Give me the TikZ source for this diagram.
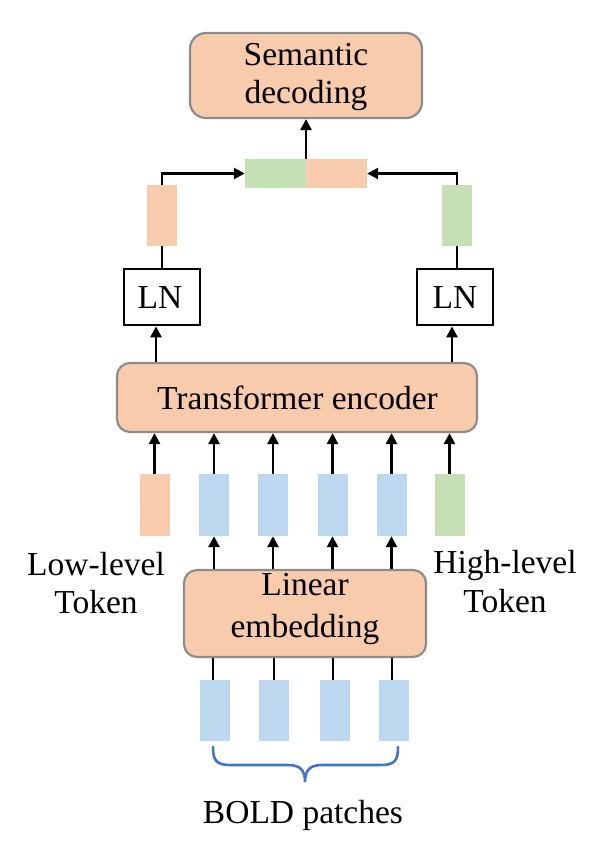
\documentclass[tikz,border=0pt]{standalone}
\usepackage{fontspec}
\setmainfont{Liberation Serif}
\usetikzlibrary{arrows.meta}
\definecolor{peach}{HTML}{F8CBAD}
\definecolor{lblue}{HTML}{BDD7EE}
\definecolor{lgreen}{HTML}{C5E0B4}
\definecolor{bord}{HTML}{8C8C8C}
\definecolor{brc}{HTML}{4472C4}
\begin{document}
\begin{tikzpicture}[x=1pt,y=-1pt,
  big/.style={draw=bord,line width=2.2pt,fill=peach,rounded corners=13pt,inner sep=0pt},
  tok/.style={inner sep=0pt,minimum width=30pt,minimum height=61pt},
  lnbox/.style={draw=black,line width=2.8pt,fill=white,inner sep=0pt,minimum width=76pt,minimum height=56pt},
  lbl/.style={anchor=base,inner sep=0pt,font=\fontsize{33.5}{38}\selectfont},
  arr/.style={line width=2.6pt,-{Triangle[length=11pt,width=11pt]}},
  ln/.style={line width=2.6pt}]
\useasboundingbox (0,0) rectangle (593,844);
% boxes
\node[big,minimum width=232pt,minimum height=85pt,rounded corners=16pt] (sem) at (306,75.5) {};
\node[lbl] (semt1) at (306,65.7) {Semantic};
\node[lbl] (semt2) at (306,103) {decoding};
\node[inner sep=0pt,minimum width=61pt,minimum height=29pt,fill=lgreen] (catg) at (275.5,173.5) {};
\node[inner sep=0pt,minimum width=61pt,minimum height=29pt,fill=peach] (cato) at (336.5,173.5) {};
\coordinate (catc) at (306,159);
\node[tok,fill=peach] (lsm) at (162,215.5) {};
\node[tok,fill=lgreen] (rsm) at (457,215.5) {};
\node[lnbox] (lnl) at (162,297) {};
\node[lbl] (lnlt) at (160,308.5) {LN};
\node[lnbox] (lnr) at (455,297) {};
\node[lbl] (lnrt) at (455,308.5) {LN};
\node[big,minimum width=360pt,minimum height=69pt] (tr) at (297,397.5) {};
\node[lbl] (trt) at (297.5,409) {Transformer encoder};
\node[tok,minimum height=62pt,fill=peach] (t0) at (154.5,505) {};
\node[tok,minimum height=62pt,fill=lblue] (t1) at (214,505) {};
\node[tok,minimum height=62pt,fill=lblue] (t2) at (273,505) {};
\node[tok,minimum height=62pt,fill=lblue] (t3) at (332.5,505) {};
\node[tok,minimum height=62pt,fill=lblue] (t4) at (391.5,505) {};
\node[tok,minimum height=62pt,fill=lgreen] (t5) at (449.5,505) {};
\node[big,minimum width=242pt,minimum height=87pt] (lin) at (305,613.5) {};
\node[lbl] (lint1) at (305,595) {Linear};
\node[lbl] (lint2) at (305,637) {embedding};
\node[tok,fill=lblue] (p1) at (214.5,710.5) {};
\node[tok,fill=lblue] (p2) at (273.5,710.5) {};
\node[tok,fill=lblue] (p3) at (334.5,710.5) {};
\node[tok,fill=lblue] (p4) at (393.5,710.5) {};
\node[lbl] (low1) at (96,575) {Low-level};
\node[lbl] (low2) at (96,613) {Token};
\node[lbl] (hig1) at (505,573) {High-level};
\node[lbl] (hig2) at (505,612) {Token};
\node[lbl] (bold) at (303,823) {BOLD patches};
% connectors
\draw[arr] (catc) -- (sem.south);
\draw[arr] (lsm.north) |- (catg.west);
\draw[arr] (rsm.north) |- (cato.east);
\draw[ln] (lnl.north) -- (lsm.south);
\draw[ln] (lnr.north -| rsm) -- (rsm.south);
\draw[arr] (tr.north -| 156,0) -- (lnl.south -| 156,0);
\draw[arr] (tr.north -| 452,0) -- (lnr.south -| 452,0);
\foreach \i in {0,...,5} { \draw[arr] (t\i.north) -- (tr.south -| t\i.north); }
\foreach \i in {1,...,4} { \draw[arr] (lin.north -| t\i.south) -- (t\i.south); }
\foreach \i/\x in {1/213,2/274,3/333,4/392} { \draw[ln] (p\i.north -| \x,0) -- (lin.south -| \x,0); }
% brace
\draw[brc,line width=2.6pt,line cap=round] (213,747) .. controls (213,760) and (216,765) .. (230,765)
  -- (288,765) .. controls (300,765) and (305,770) .. (305,782)
  .. controls (305,770) and (310,765) .. (322,765) -- (381,765)
  .. controls (395,765) and (398,760) .. (398,747);
\end{tikzpicture}
\end{document}
